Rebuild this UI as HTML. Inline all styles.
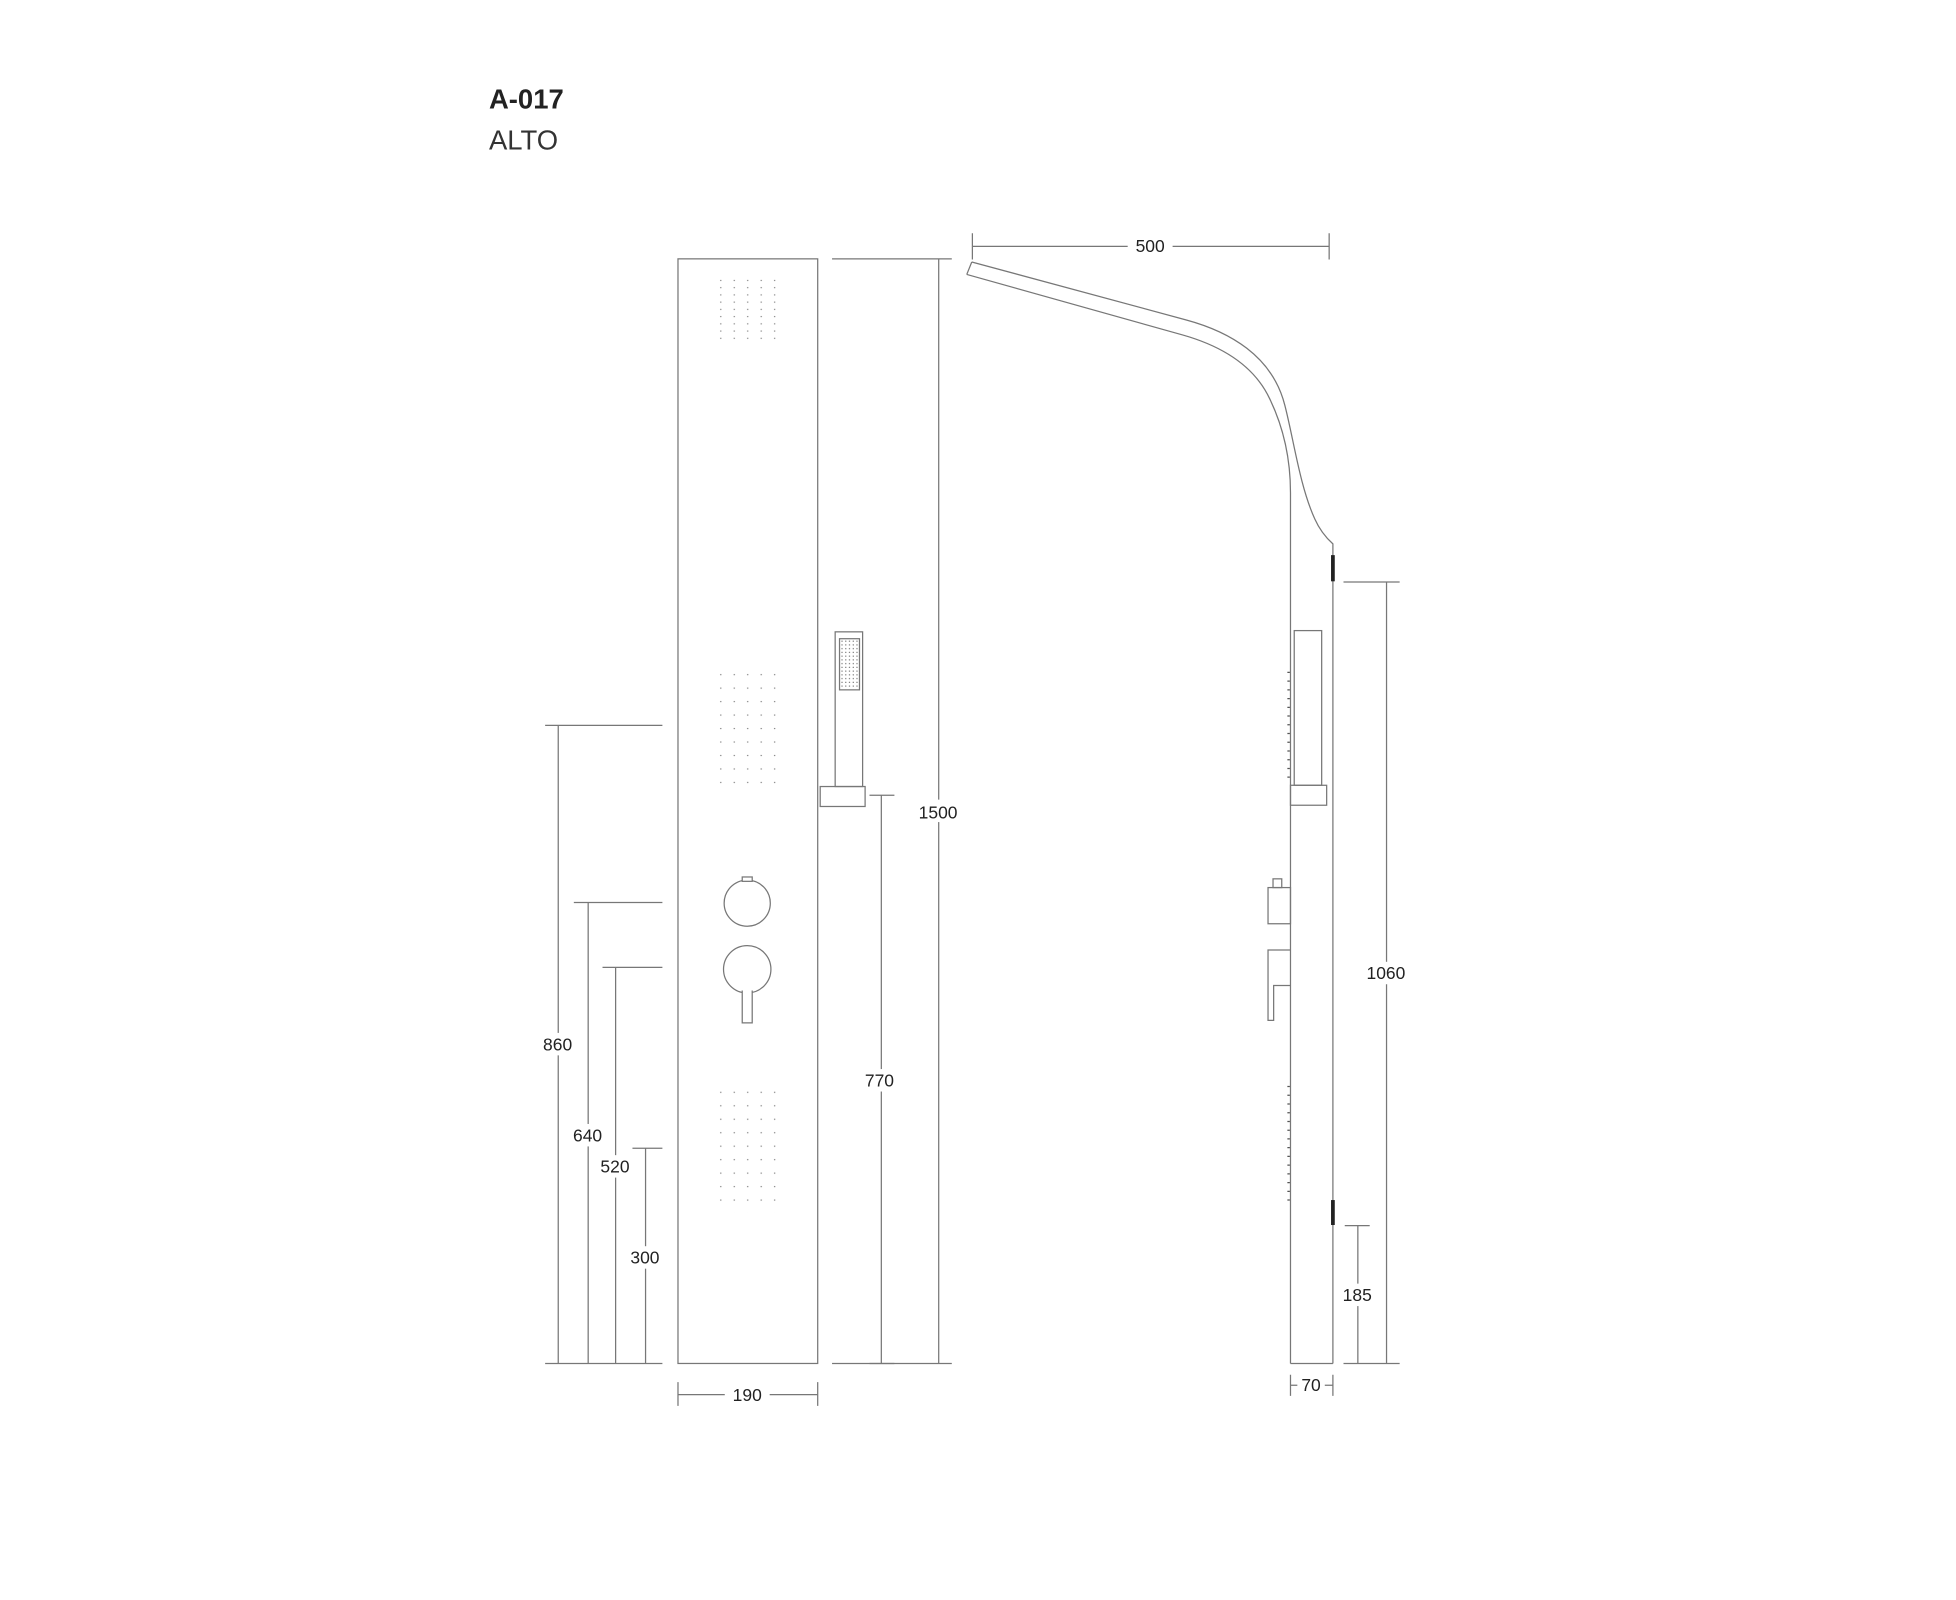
<!DOCTYPE html>
<html><head><meta charset="utf-8"><style>
html,body{margin:0;padding:0;background:#fff;}
svg{display:block;}
text{font-family:"Liberation Sans",sans-serif;fill:#222;}
</style></head><body>
<svg width="1956" height="1600" viewBox="0 0 1568 1282.6" xmlns="http://www.w3.org/2000/svg">
<defs>
<pattern id="dg" x="577" y="0" width="10.8" height="10.8" patternUnits="userSpaceOnUse">
<circle cx="0.8" cy="0.8" r="0.55" fill="#777"/></pattern>
<pattern id="dgt" x="577" y="224" width="10.8" height="5.8" patternUnits="userSpaceOnUse">
<circle cx="0.8" cy="0.8" r="0.55" fill="#777"/></pattern>
<pattern id="hs" x="674" y="513" width="3" height="3" patternUnits="userSpaceOnUse">
<circle cx="1" cy="1" r="0.5" fill="#666"/></pattern>
</defs>
<text x="392" y="87" font-size="22" font-weight="bold" style="fill:#222">A-017</text>
<text x="392" y="120" font-size="22" style="fill:#333">ALTO</text>

<g stroke="#777" stroke-width="1" fill="none">
<rect x="543.5" y="207.5" width="112" height="885.5"/>
<circle cx="599" cy="724" r="18.5" fill="#fff"/>
<rect x="595" y="703" width="8" height="3.5" fill="#fff"/>
<circle cx="599" cy="777" r="19" fill="#fff"/>
<path d="M595,794 L595,820 L603,820 L603,794" fill="#fff"/>
<rect x="669.5" y="506.5" width="22" height="124"/>
<rect x="673" y="512" width="16" height="41"/>
<rect x="657.5" y="630.5" width="36" height="16"/>
<path d="M667,207.5 H763 M752.5,207.5 V1093 M667,1093 H763"/>
<path d="M697,637.5 H717 M706.5,637.5 V1093 M697,1093 H717"/>
<path d="M437,581.5 H531 M447.5,581.5 V1093"/>
<path d="M460,723.5 H531 M471.5,723.5 V1093"/>
<path d="M483,775.5 H531 M493.5,775.5 V1093"/>
<path d="M507,920.5 H531 M517.5,920.5 V1093"/>
<path d="M437,1093 H531"/>
<path d="M543.5,1108 V1127 M655.5,1108 V1127 M543.5,1118 H655.5"/>
<path d="M779.5,187 V208 M1065.5,187 V208 M779.5,197.5 H1065.5"/>
<!-- side view -->
<path d="M779,210 L951,256.5 C985,265.7 1020,285 1030,325 C1037,352 1042,390 1054,416 C1058,425 1063,431 1068.5,436 V1093"/>
<path d="M775,220 L948,268.5 C978,277 1005,292 1018,320 C1030,345 1034.5,370 1034.5,395 V1093"/>
<path d="M779,210 L775,220"/>
<path d="M1034.5,1093 H1068.5"/>
<rect x="1037.5" y="505.5" width="22" height="124"/>
<rect x="1034.5" y="629.5" width="29" height="16"/>
<rect x="1016.5" y="711.5" width="18" height="29"/>
<rect x="1020.5" y="704.5" width="7" height="7"/>
<path d="M1034.5,761.5 H1016.5 V818 H1021 V790 H1034.5"/>
<path d="M1077,466.5 H1122 M1111.5,466.5 V1093 M1077,1093 H1122"/>
<path d="M1078,982.5 H1098 M1088.5,982.5 V1093"/>
<path d="M1034.5,1102 V1119 M1068.5,1102 V1119 M1034.5,1110.5 H1040 M1062,1110.5 H1068.5"/>
</g>
<rect x="577" y="224" width="47" height="48" fill="url(#dgt)"/>
<rect x="577" y="532" width="47" height="100" fill="url(#dg)"/>
<rect x="577" y="872" width="47" height="100" fill="url(#dg)"/>
<rect x="674" y="513" width="14" height="39" fill="url(#hs)"/>
<rect x="1067" y="445" width="3" height="21" fill="#222"/>
<rect x="1067" y="962" width="3" height="20" fill="#222"/>
<g stroke="#555" stroke-width="1">
<path d="M1032,539 h2 M1032,546 h2 M1032,553 h2 M1032,560 h2 M1032,567 h2 M1032,574 h2 M1032,581 h2 M1032,588 h2 M1032,595 h2 M1032,602 h2 M1032,609 h2 M1032,616 h2 M1032,623 h2"/>
<path d="M1032,871 h2 M1032,878 h2 M1032,885 h2 M1032,892 h2 M1032,899 h2 M1032,906 h2 M1032,913 h2 M1032,920 h2 M1032,927 h2 M1032,934 h2 M1032,941 h2 M1032,948 h2 M1032,955 h2 M1032,962 h2"/>
</g>
<g font-size="14" text-anchor="middle">
<rect x="733" y="641" width="40" height="18" fill="#fff"/>
<text x="752" y="656">1500</text>
<rect x="690" y="857" width="32" height="18" fill="#fff"/>
<text x="705" y="871">770</text>
<rect x="431" y="828" width="32" height="18" fill="#fff"/>
<text x="447" y="842">860</text>
<rect x="455" y="901" width="32" height="18" fill="#fff"/>
<text x="471" y="915">640</text>
<rect x="478" y="926" width="32" height="18" fill="#fff"/>
<text x="493" y="940">520</text>
<rect x="501" y="999" width="32" height="18" fill="#fff"/>
<text x="517" y="1013">300</text>
<rect x="581" y="1110" width="36" height="18" fill="#fff"/>
<text x="599" y="1123">190</text>
<rect x="904" y="189" width="36" height="18" fill="#fff"/>
<text x="922" y="202">500</text>
<rect x="1092" y="771" width="40" height="18" fill="#fff"/>
<text x="1111" y="785">1060</text>
<rect x="1072" y="1029" width="32" height="18" fill="#fff"/>
<text x="1088" y="1043">185</text>
<text x="1051" y="1115">70</text>
</g>
</svg>
</body></html>
